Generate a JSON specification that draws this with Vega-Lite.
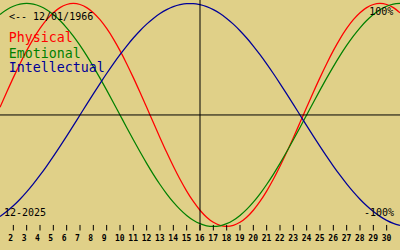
{
  "$schema": "https://vega.github.io/schema/vega-lite/v6.json",
  "width": 400,
  "height": 250,
  "autosize": {"type": "none"},
  "padding": 0,
  "background": "#e0d088",
  "config": {"view": {"stroke": null}},
  "datasets": {
    "ticks": [
      {"day": 2}, {"day": 3}, {"day": 4}, {"day": 5}, {"day": 6}, {"day": 7}, {"day": 8}, {"day": 9}, {"day": 10},
      {"day": 11}, {"day": 12}, {"day": 13}, {"day": 14}, {"day": 15}, {"day": 16}, {"day": 17}, {"day": 18}, {"day": 19},
      {"day": 20}, {"day": 21}, {"day": 22}, {"day": 23}, {"day": 24}, {"day": 25}, {"day": 26}, {"day": 27}, {"day": 28},
      {"day": 29}, {"day": 30}
    ]
  },
  "layer": [
    {
      "data": {"values": [
        {"day": 1, "Physical": 0.0682, "Emotional": 0.901, "Intellectual": -0.9096},
        {"day": 1.5, "Physical": 0.2034, "Emotional": 0.9439, "Intellectual": -0.866},
        {"day": 2, "Physical": 0.3349, "Emotional": 0.9749, "Intellectual": -0.8146},
        {"day": 2.5, "Physical": 0.4601, "Emotional": 0.9937, "Intellectual": -0.7557},
        {"day": 3, "Physical": 0.5767, "Emotional": 1, "Intellectual": -0.6901},
        {"day": 3.5, "Physical": 0.6825, "Emotional": 0.9937, "Intellectual": -0.6182},
        {"day": 4, "Physical": 0.7757, "Emotional": 0.9749, "Intellectual": -0.5406},
        {"day": 4.5, "Physical": 0.8544, "Emotional": 0.9439, "Intellectual": -0.4582},
        {"day": 5, "Physical": 0.9172, "Emotional": 0.901, "Intellectual": -0.3717},
        {"day": 5.5, "Physical": 0.9629, "Emotional": 0.8467, "Intellectual": -0.2817},
        {"day": 6, "Physical": 0.9907, "Emotional": 0.7818, "Intellectual": -0.1893},
        {"day": 6.5, "Physical": 1, "Emotional": 0.7071, "Intellectual": -0.0951},
        {"day": 7, "Physical": 0.9907, "Emotional": 0.6235, "Intellectual": 0},
        {"day": 7.5, "Physical": 0.9629, "Emotional": 0.5321, "Intellectual": 0.0951},
        {"day": 8, "Physical": 0.9172, "Emotional": 0.4339, "Intellectual": 0.1893},
        {"day": 8.5, "Physical": 0.8544, "Emotional": 0.3303, "Intellectual": 0.2817},
        {"day": 9, "Physical": 0.7757, "Emotional": 0.2225, "Intellectual": 0.3717},
        {"day": 9.5, "Physical": 0.6825, "Emotional": 0.112, "Intellectual": 0.4582},
        {"day": 10, "Physical": 0.5767, "Emotional": 0, "Intellectual": 0.5406},
        {"day": 10.5, "Physical": 0.4601, "Emotional": -0.112, "Intellectual": 0.6182},
        {"day": 11, "Physical": 0.3349, "Emotional": -0.2225, "Intellectual": 0.6901},
        {"day": 11.5, "Physical": 0.2034, "Emotional": -0.3303, "Intellectual": 0.7557},
        {"day": 12, "Physical": 0.0682, "Emotional": -0.4339, "Intellectual": 0.8146},
        {"day": 12.5, "Physical": -0.0682, "Emotional": -0.5321, "Intellectual": 0.866},
        {"day": 13, "Physical": -0.2034, "Emotional": -0.6235, "Intellectual": 0.9096},
        {"day": 13.5, "Physical": -0.3349, "Emotional": -0.7071, "Intellectual": 0.945},
        {"day": 14, "Physical": -0.4601, "Emotional": -0.7818, "Intellectual": 0.9718},
        {"day": 14.5, "Physical": -0.5767, "Emotional": -0.8467, "Intellectual": 0.9898},
        {"day": 15, "Physical": -0.6825, "Emotional": -0.901, "Intellectual": 0.9989},
        {"day": 15.5, "Physical": -0.7757, "Emotional": -0.9439, "Intellectual": 0.9989},
        {"day": 16, "Physical": -0.8544, "Emotional": -0.9749, "Intellectual": 0.9898},
        {"day": 16.5, "Physical": -0.9172, "Emotional": -0.9937, "Intellectual": 0.9718},
        {"day": 17, "Physical": -0.9629, "Emotional": -1, "Intellectual": 0.945},
        {"day": 17.5, "Physical": -0.9907, "Emotional": -0.9937, "Intellectual": 0.9096},
        {"day": 18, "Physical": -1, "Emotional": -0.9749, "Intellectual": 0.866},
        {"day": 18.5, "Physical": -0.9907, "Emotional": -0.9439, "Intellectual": 0.8146},
        {"day": 19, "Physical": -0.9629, "Emotional": -0.901, "Intellectual": 0.7557},
        {"day": 19.5, "Physical": -0.9172, "Emotional": -0.8467, "Intellectual": 0.6901},
        {"day": 20, "Physical": -0.8544, "Emotional": -0.7818, "Intellectual": 0.6182},
        {"day": 20.5, "Physical": -0.7757, "Emotional": -0.7071, "Intellectual": 0.5406},
        {"day": 21, "Physical": -0.6825, "Emotional": -0.6235, "Intellectual": 0.4582},
        {"day": 21.5, "Physical": -0.5767, "Emotional": -0.5321, "Intellectual": 0.3717},
        {"day": 22, "Physical": -0.4601, "Emotional": -0.4339, "Intellectual": 0.2817},
        {"day": 22.5, "Physical": -0.3349, "Emotional": -0.3303, "Intellectual": 0.1893},
        {"day": 23, "Physical": -0.2034, "Emotional": -0.2225, "Intellectual": 0.0951},
        {"day": 23.5, "Physical": -0.0682, "Emotional": -0.112, "Intellectual": 0},
        {"day": 24, "Physical": 0.0682, "Emotional": 0, "Intellectual": -0.0951},
        {"day": 24.5, "Physical": 0.2034, "Emotional": 0.112, "Intellectual": -0.1893},
        {"day": 25, "Physical": 0.3349, "Emotional": 0.2225, "Intellectual": -0.2817},
        {"day": 25.5, "Physical": 0.4601, "Emotional": 0.3303, "Intellectual": -0.3717},
        {"day": 26, "Physical": 0.5767, "Emotional": 0.4339, "Intellectual": -0.4582},
        {"day": 26.5, "Physical": 0.6825, "Emotional": 0.5321, "Intellectual": -0.5406},
        {"day": 27, "Physical": 0.7757, "Emotional": 0.6235, "Intellectual": -0.6182},
        {"day": 27.5, "Physical": 0.8544, "Emotional": 0.7071, "Intellectual": -0.6901},
        {"day": 28, "Physical": 0.9172, "Emotional": 0.7818, "Intellectual": -0.7557},
        {"day": 28.5, "Physical": 0.9629, "Emotional": 0.8467, "Intellectual": -0.8146},
        {"day": 29, "Physical": 0.9907, "Emotional": 0.901, "Intellectual": -0.866},
        {"day": 29.5, "Physical": 1, "Emotional": 0.9439, "Intellectual": -0.9096},
        {"day": 30, "Physical": 0.9907, "Emotional": 0.9749, "Intellectual": -0.945},
        {"day": 30.5, "Physical": 0.9629, "Emotional": 0.9937, "Intellectual": -0.9718},
        {"day": 31, "Physical": 0.9172, "Emotional": 1, "Intellectual": -0.9898}
      ]},
      "transform": [{"fold": ["Physical", "Emotional", "Intellectual"], "as": ["series", "value"]}],
      "mark": {"type": "line", "strokeWidth": 1.25, "interpolate": "monotone"},
      "encoding": {
        "x": {
          "field": "day", "type": "quantitative",
          "scale": {"domain": [1, 31], "nice": false, "zero": false},
          "axis": null
        },
        "y": {
          "field": "value", "type": "quantitative",
          "scale": {"domain": [-1.211, 1.031], "nice": false, "zero": false},
          "axis": null
        },
        "color": {
          "field": "series", "type": "nominal",
          "scale": {"domain": ["Physical", "Emotional", "Intellectual"], "range": ["#ff0000", "#008000", "#000098"]},
          "legend": null
        },
        "order": {"field": "day", "type": "quantitative"}
      }
    },
    {
      "data": {"name": "ticks"},
      "mark": {"type": "rule", "color": "#000000", "strokeWidth": 1},
      "encoding": {
        "x": {"field": "day", "type": "quantitative", "axis": null},
        "y": {"datum": -0.9865, "type": "quantitative", "axis": null},
        "y2": {"datum": -1.036}
      }
    },
    {
      "data": {"name": "ticks"},
      "mark": {"type": "text", "font": "DejaVu Sans Mono", "fontWeight": "bold", "fontSize": 8, "color": "#000000", "align": "left", "baseline": "alphabetic", "dx": -5},
      "encoding": {
        "x": {"field": "day", "type": "quantitative", "axis": null},
        "y": {"datum": -1.13, "type": "quantitative", "axis": null},
        "text": {"field": "day", "type": "quantitative", "format": "d"}
      }
    },
    {
      "data": {"values": [{}]},
      "mark": {"type": "rule", "color": "#000000", "strokeWidth": 1},
      "encoding": {
        "y": {"datum": 0, "type": "quantitative", "axis": null},
        "x": {"datum": 1, "type": "quantitative", "axis": null},
        "x2": {"datum": 31}
      }
    },
    {
      "data": {"values": [{}]},
      "mark": {"type": "rule", "color": "#000000", "strokeWidth": 1},
      "encoding": {
        "x": {"datum": 16, "type": "quantitative", "axis": null},
        "y": {"datum": 1.031, "type": "quantitative", "axis": null},
        "y2": {"datum": -1.036}
      }
    },
    {
      "data": {"values": [{}]},
      "mark": {"type": "text", "text": "<-- 12/01/1966", "font": "DejaVu Sans Mono", "fontSize": 10, "color": "#000000", "align": "left", "baseline": "alphabetic"},
      "encoding": {
        "x": {"datum": 1.67, "type": "quantitative", "axis": null},
        "y": {"datum": 0.848, "type": "quantitative", "axis": null}
      }
    },
    {
      "data": {"values": [{}]},
      "mark": {"type": "text", "text": "Physical", "font": "DejaVu Sans Mono", "fontSize": 13.3, "color": "#ff0000", "align": "left", "baseline": "alphabetic"},
      "encoding": {
        "x": {"datum": 1.66, "type": "quantitative", "axis": null},
        "y": {"datum": 0.65, "type": "quantitative", "axis": null}
      }
    },
    {
      "data": {"values": [{}]},
      "mark": {"type": "text", "text": "Emotional", "font": "DejaVu Sans Mono", "fontSize": 13.3, "color": "#008000", "align": "left", "baseline": "alphabetic"},
      "encoding": {
        "x": {"datum": 1.66, "type": "quantitative", "axis": null},
        "y": {"datum": 0.515, "type": "quantitative", "axis": null}
      }
    },
    {
      "data": {"values": [{}]},
      "mark": {"type": "text", "text": "Intellectual", "font": "DejaVu Sans Mono", "fontSize": 13.3, "color": "#000098", "align": "left", "baseline": "alphabetic"},
      "encoding": {
        "x": {"datum": 1.66, "type": "quantitative", "axis": null},
        "y": {"datum": 0.381, "type": "quantitative", "axis": null}
      }
    },
    {
      "data": {"values": [{}]},
      "mark": {"type": "text", "text": "100%", "font": "DejaVu Sans Mono", "fontSize": 10, "color": "#000000", "align": "right", "baseline": "alphabetic"},
      "encoding": {
        "x": {"datum": 30.5, "type": "quantitative", "axis": null},
        "y": {"datum": 0.892, "type": "quantitative", "axis": null}
      }
    },
    {
      "data": {"values": [{}]},
      "mark": {"type": "text", "text": "-100%", "font": "DejaVu Sans Mono", "fontSize": 10, "color": "#000000", "align": "right", "baseline": "alphabetic"},
      "encoding": {
        "x": {"datum": 30.55, "type": "quantitative", "axis": null},
        "y": {"datum": -0.91, "type": "quantitative", "axis": null}
      }
    },
    {
      "data": {"values": [{}]},
      "mark": {"type": "text", "text": "12-2025", "font": "DejaVu Sans Mono", "fontSize": 10, "color": "#000000", "align": "left", "baseline": "alphabetic"},
      "encoding": {
        "x": {"datum": 1.3, "type": "quantitative", "axis": null},
        "y": {"datum": -0.906, "type": "quantitative", "axis": null}
      }
    }
  ]
}
